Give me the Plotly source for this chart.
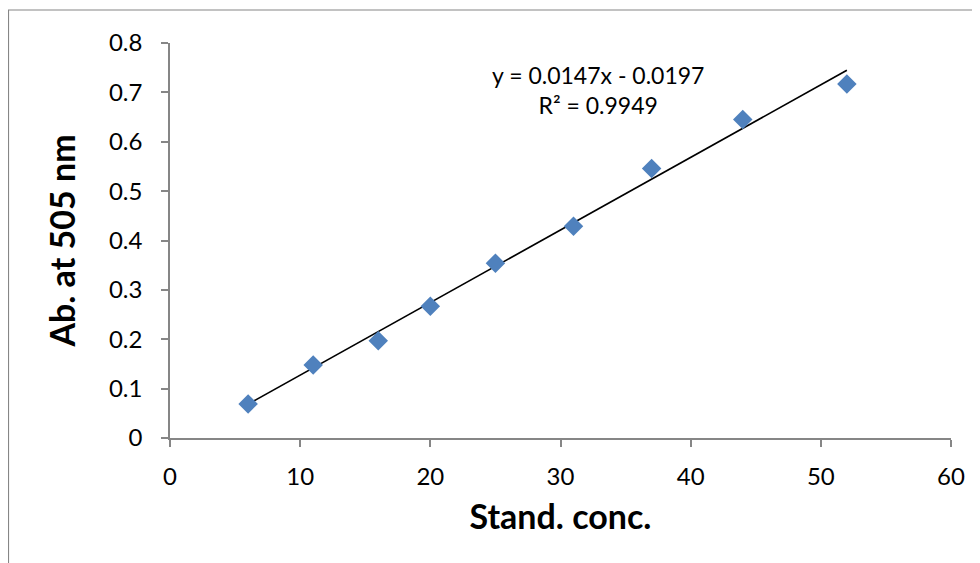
import plotly.graph_objects as go

conc = [6, 11, 16, 20, 25, 31, 37, 44, 52]
absorb = [0.069, 0.148, 0.197, 0.267, 0.354, 0.429, 0.546, 0.645, 0.717]
slope = 0.0147
intercept = -0.0197
eq_text = "y = 0.0147x - 0.0197<br>R² = 0.9949"
x_ticks = [0, 10, 20, 30, 40, 50, 60]
y_ticks = [0, 0.1, 0.2, 0.3, 0.4, 0.5, 0.6, 0.7, 0.8]
y_tick_text = ["0", "0.1", "0.2", "0.3", "0.4", "0.5", "0.6", "0.7", "0.8"]

trend_x = [min(conc), max(conc)]
trend_y = [slope * v + intercept for v in trend_x]

FONT = "Lato"
GRAY = "#868686"

fig = go.Figure()
fig.add_trace(go.Scatter(
    x=trend_x, y=trend_y, mode="lines",
    line=dict(color="black", width=1.7), showlegend=False, hoverinfo="skip",
))
fig.add_trace(go.Scatter(
    x=conc, y=absorb, mode="markers",
    marker=dict(symbol="diamond", size=15, color="#4F81BD", line=dict(width=0)),
    showlegend=False,
))

fig.add_annotation(
    x=32.9, y=0.704, xref="x", yref="y", text=eq_text, showarrow=False,
    font=dict(family=FONT, size=23, color="black"), align="center",
)

fig.add_shape(
    type="rect", xref="paper", yref="paper",
    x0=-0.2068, x1=1.2, y0=-0.5, y1=1.0835,
    line=dict(color=GRAY, width=1.2), fillcolor="rgba(0,0,0,0)", layer="below",
)

fig.update_layout(
    width=980, height=563,
    margin=dict(l=162, r=37, t=35, b=133),
    paper_bgcolor="white", plot_bgcolor="white",
    font=dict(family=FONT, color="black"),
    xaxis=dict(
        range=[0, 60], tickvals=x_ticks, ticks="outside", ticklen=7, tickcolor=GRAY,
        tickwidth=1.5, showline=True, linecolor=GRAY, linewidth=1.5, showgrid=False,
        zeroline=False, tickfont=dict(family=FONT, size=24, color="black"),
        ticklabelstandoff=9,
        title=dict(text="<b>Stand. conc.</b>", font=dict(family=FONT, size=34, color="black"),
                   standoff=17),
    ),
    yaxis=dict(
        range=[0, 0.8], tickvals=y_ticks, ticktext=y_tick_text, ticks="outside", ticklen=7,
        tickcolor=GRAY, tickwidth=1.5, showline=True, linecolor=GRAY, linewidth=1.5,
        showgrid=False, zeroline=False, tickfont=dict(family=FONT, size=24, color="black"),
        ticklabelstandoff=14,
        title=dict(text="<b>Ab. at 505 nm</b>", font=dict(family=FONT, size=34, color="black"),
                   standoff=23),
    ),
)

fig.write_html("out.html")
